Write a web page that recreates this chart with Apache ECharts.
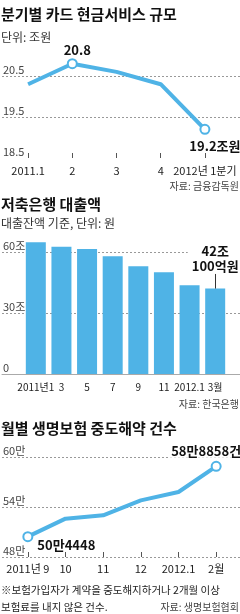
<!DOCTYPE html>
<html>
<head>
<meta charset="utf-8">
<script src="https://cdn.jsdelivr.net/npm/echarts@6/dist/echarts.min.js"></script>
<style>
    html, body { margin: 0; padding: 0; background: #fff; }
    #main { width: 240px; height: 614px; }
</style>
</head>
<body>
<div id="main"></div>
<script>
    // 분기별 카드 현금서비스 (조원)
    const quarterLabels = ['2011.1', '2', '3', '4', '2012년 1분기'];
    const cashService = [20.3, 20.8, 20.6, 20.3, 19.2];
    const cashTicks = ['18.5', '19.5', '20.5'];

    // 저축은행 대출잔액 (조원)
    const loanMonths = ['2011년1', '3', '5', '7', '9', '11', '2012.1', '3월'];
    const loanValues = [64.8, 62.6, 61.5, 57.9, 53.0, 50.0, 43.6, 42.01];
    const loanTicks = ['0', '30조', '60조'];

    // 월별 생명보험 중도해약 (만건)
    const cancelMonths = ['2011년 9', '10', '11', '12', '2012.1', '2월'];
    const cancelValues = [50.4448, 52.6, 53.0, 54.8, 55.8, 58.8858];
    const cancelTicks = ['48만', '54만', '60만'];

    const BLUE = '#4FB3E6';
    const KR = '"Noto Sans CJK KR", sans-serif';
    const NUM = '"Liberation Sans Narrow", "Noto Sans CJK KR", sans-serif';

    let chart = echarts.init(document.getElementById('main'), null, {renderer: 'canvas'});

    function titleItem(text, top, size, bold, color, right) {
        let t = {
            text: text,
            top: top,
            padding: 0,
            textStyle: {
                fontSize: size,
                fontWeight: bold ? 'bold' : 'normal',
                color: color,
                fontFamily: KR,
                lineHeight: size + 3
            }
        };
        if (right) {
            t.right = 1;
        } else {
            t.left = 1;
        }
        return t;
    }

    // 그리드 선만 그리는 범주 축 (눈금 라벨 포함)
    function tickAxis(gridIndex, ticks, hideFirst) {
        return {
            gridIndex: gridIndex,
            type: 'category',
            data: ticks,
            boundaryGap: false,
            axisLine: {show: false},
            axisTick: {show: false},
            axisLabel: {
                inside: true,
                margin: 1,
                verticalAlign: 'bottom',
                fontSize: 11,
                color: '#444',
                fontFamily: NUM,
                padding: [0, 0, 1, 0]
            },
            splitLine: {
                show: true,
                interval: function (idx) {
                    return !(hideFirst && idx === 0);
                },
                lineStyle: {color: '#999', type: [2, 2], width: 1}
            }
        };
    }

    function catAxis(gridIndex, data, ticks, margin, size) {
        return {
            gridIndex: gridIndex,
            type: 'category',
            data: data,
            boundaryGap: true,
            axisLine: {show: false},
            axisTick: {
                show: ticks,
                inside: true,
                length: 5,
                alignWithLabel: true,
                lineStyle: {color: '#555'}
            },
            axisLabel: {
                interval: 0,
                margin: margin,
                fontSize: size,
                color: '#222',
                fontFamily: NUM
            },
            splitLine: {show: false}
        };
    }

    function valAxis(gridIndex, min, max) {
        return {gridIndex: gridIndex, type: 'value', min: min, max: max, show: false};
    }

    const calloutStyle = {
        fontSize: 13,
        fontWeight: 'bold',
        color: '#111',
        fontFamily: NUM
    };

    let cashData = cashService.map(function (v, i) {
        if (i === 1) {
            return {value: v, label: Object.assign({show: true, position: 'top', offset: [5, 2], distance: 4, formatter: '{c}'}, calloutStyle)};
        }
        if (i === cashService.length - 1) {
            return {value: v, label: Object.assign({show: true, position: 'bottom', offset: [10, 0], distance: 5, formatter: '{c}조원'}, calloutStyle)};
        }
        return v;
    });

    let loanData = loanValues.map(function (v, i) {
        if (i === loanValues.length - 1) {
            return {
                value: v,
                label: Object.assign({
                    show: true,
                    position: 'top',
                    distance: 15,
                    formatter: '42조\n100억원',
                    lineHeight: 15,
                    backgroundColor: '#fff',
                    padding: [0, 4]
                }, calloutStyle)
            };
        }
        return v;
    });

    let cancelData = cancelValues.map(function (v, i) {
        if (i === 0) {
            return {value: v, label: Object.assign({show: true, position: 'right', offset: [0, 8], distance: 4, formatter: '50만4448'}, calloutStyle)};
        }
        if (i === cancelValues.length - 1) {
            return {value: v, label: Object.assign({show: true, position: 'top', offset: [-10, 0], distance: 3, formatter: '58만8858건', backgroundColor: '#fff', padding: [0, 2]}, calloutStyle)};
        }
        return v;
    });

    function markedSize(list) {
        return function (val, params) {
            return list.indexOf(params.dataIndex) >= 0 ? 9 : 0;
        };
    }

    let option = {
        animation: false,
        backgroundColor: '#fff',
        textStyle: {fontFamily: KR},
        title: [
            titleItem('분기별 카드 현금서비스 규모', 5, 15, true, '#111'),
            titleItem('단위: 조원', 30, 12, false, '#333'),
            titleItem('자료: 금융감독원', 180, 10, false, '#444', true),
            titleItem('저축은행 대출액', 195, 15, true, '#111'),
            titleItem('대출잔액 기준, 단위: 원', 216, 12, false, '#333'),
            titleItem('자료: 한국은행', 398, 10, false, '#444', true),
            titleItem('월별 생명보험 중도해약 건수', 419, 15, true, '#111'),
            titleItem('※보험가입자가 계약을 중도해지하거나 2개월 이상', 583, 10.5, false, '#222'),
            titleItem('보험료를 내지 않은 건수.', 600, 10.5, false, '#222'),
            titleItem('자료: 생명보험협회', 601, 10, false, '#444', true)
        ],
        grid: [
            {left: 0, right: 0, top: 76, height: 82},
            {left: 6, width: 221, top: 76, height: 82},
            {left: 0, right: 0, top: 252, height: 122},
            {left: 23, width: 205, top: 252, height: 122},
            {left: 0, right: 0, top: 457, height: 100},
            {left: 9, width: 226, top: 457, height: 100}
        ],
        xAxis: [
            {gridIndex: 0, type: 'value', show: false},
            catAxis(1, quarterLabels, true, 7, 11),
            {
                gridIndex: 2, type: 'value',
                axisLine: {show: true, onZero: false, lineStyle: {color: '#aaa'}},
                axisTick: {show: false}, axisLabel: {show: false}, splitLine: {show: false}
            },
            catAxis(3, loanMonths, false, 8, 10),
            {gridIndex: 4, type: 'value', show: false},
            catAxis(5, cancelMonths, true, 6, 11)
        ],
        yAxis: [
            tickAxis(0, cashTicks, true),
            valAxis(1, 18.5, 20.5),
            tickAxis(2, loanTicks, true),
            valAxis(3, 0, 60),
            tickAxis(4, cancelTicks, false),
            valAxis(5, 48, 60)
        ],
        series: [
            {
                name: '현금서비스',
                type: 'line',
                xAxisIndex: 1,
                yAxisIndex: 1,
                data: cashData,
                clip: false,
                symbol: 'circle',
                symbolSize: markedSize([1, 4]),
                showSymbol: true,
                itemStyle: {color: '#fff', borderColor: BLUE, borderWidth: 2},
                lineStyle: {color: BLUE, width: 4},
                z: 3
            },
            {
                name: '대출액',
                type: 'bar',
                xAxisIndex: 3,
                yAxisIndex: 3,
                data: loanData,
                barWidth: 20,
                clip: false,
                itemStyle: {color: BLUE},
                markLine: {
                    silent: true,
                    symbol: ['none', 'none'],
                    label: {show: false},
                    lineStyle: {color: '#333', width: 1, type: 'solid'},
                    data: [[{coord: ['3월', 42.01]}, {coord: ['3월', 49.2]}]]
                }
            },
            {
                name: '중도해약',
                type: 'line',
                xAxisIndex: 5,
                yAxisIndex: 5,
                data: cancelData,
                clip: false,
                symbol: 'circle',
                symbolSize: markedSize([0, 5]),
                showSymbol: true,
                itemStyle: {color: '#fff', borderColor: BLUE, borderWidth: 2},
                lineStyle: {color: BLUE, width: 4},
                z: 3
            }
        ]
    };

    chart.setOption(option);
</script>
</body>
</html>
